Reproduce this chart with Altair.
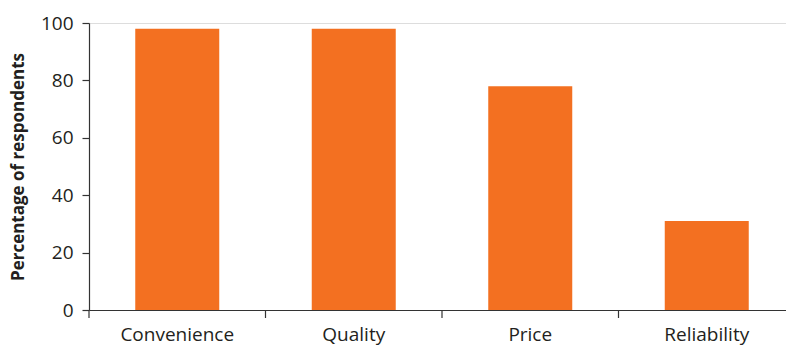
import altair as alt
import pandas as pd

categories = ["Convenience", "Quality", "Price", "Reliability"]
values = [98, 98, 78, 31]

df = pd.DataFrame({"factor": categories, "pct": values})

FONT = "Open Sans"
TEXT = "#231F20"

x_scale = alt.Scale(domain=categories, range=[0, 706], paddingInner=0, paddingOuter=0)

bars = alt.Chart(df).mark_bar(color="#F37021", width=84).encode(
    x=alt.X("factor:N", scale=x_scale, sort=categories,
            axis=alt.Axis(title=None, labelAngle=0, ticks=False, labelPadding=15,
                          labelFontSize=19, labelFont=FONT, labelColor=TEXT,
                          domainColor="#333333", domainWidth=1.2)),
    y=alt.Y("pct:Q", scale=alt.Scale(domain=[0, 100], nice=False),
            axis=alt.Axis(title="Percentage of respondents", values=[0, 20, 40, 60, 80, 100],
                          tickSize=7, tickColor="#333333", tickWidth=1.2,
                          domainColor="#333333", domainWidth=1.2,
                          labelFontSize=19, labelFont=FONT, labelColor=TEXT, labelPadding=9,
                          titleFont=FONT, titleFontSize=17, titleFontWeight="bold",
                          titleColor=TEXT, titlePadding=13, grid=False)),
)

ticks = alt.Chart(df).mark_rule(color="#333333", strokeWidth=1.2).encode(
    x=alt.X("factor:N", scale=x_scale, sort=categories, bandPosition=0),
    y=alt.value(287),
    y2=alt.value(295),
)

chart = alt.layer(bars, ticks).properties(
    width=697, height=287,
    autosize=alt.AutoSizeParams(type="none"),
    padding={"left": 89, "top": 23, "right": 0, "bottom": 36},
).configure_view(stroke=None).configure(background="white")

chart.save("out.html", embed_options={"renderer": "svg", "actions": False})
